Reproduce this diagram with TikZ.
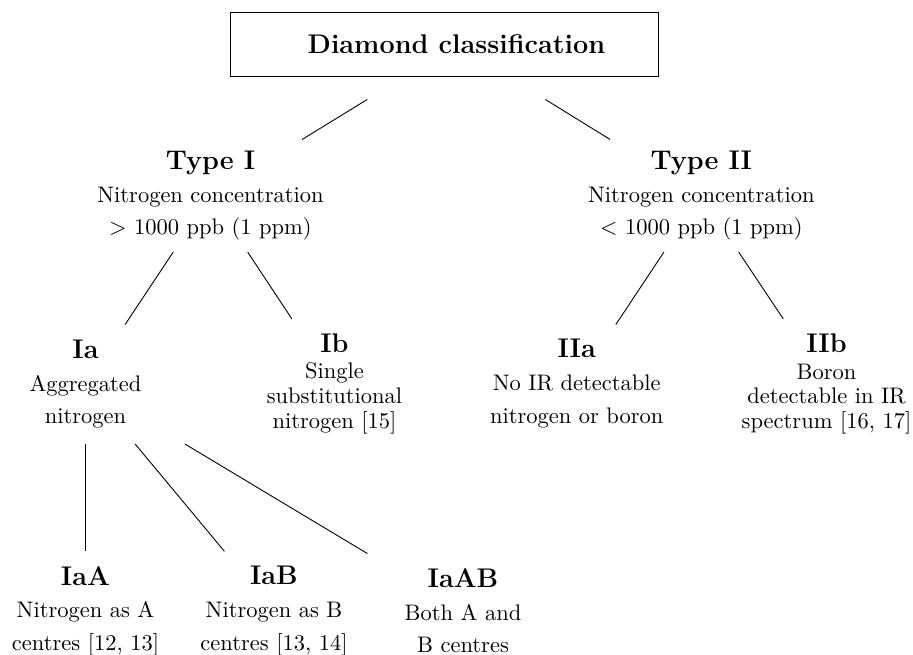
\documentclass[tikz,border=0pt]{standalone}
\begin{document}
\def\pxu{0.44444pt}
\begin{tikzpicture}[x=0.44444pt, y=-0.44444pt,
  frame/.style={draw, line width=0.4pt, inner sep=0pt, minimum width=428*\pxu, minimum height=64*\pxu},
  blk/.style={align=center, inner sep=0pt, minimum width=220*\pxu, font=\fontsize{10}{14.5}\selectfont},
  tight/.style={blk, font=\fontsize{10}{11}\selectfont},
  hd/.style={font=\large\bfseries},
  conn/.style={line width=0.4pt}]
\useasboundingbox (0,0) rectangle (913,655);

\node[frame] (box) at (444,44) {};
\node[blk, minimum height=108.8*\pxu] (root) at (456.5,44.6) {{\large\bfseries Diamond classification}};

\node[blk, minimum height=111.8*\pxu] (t1) at (210.5,195.8)
  {{\large\bfseries Type I}\\Nitrogen concentration\\$>$ 1000 ppb (1 ppm)};
\node[blk, minimum height=111.8*\pxu] (t2) at (701.3,195.8)
  {{\large\bfseries Type II}\\Nitrogen concentration\\$<$ 1000 ppb (1 ppm)};

\node[blk, minimum height=118.5*\pxu] (ia) at (85.5,384.3)
  {{\large\bfseries Ia}\\Aggregated\\nitrogen};
\node[tight, minimum height=128.4*\pxu] (ib) at (334.5,383.5)
  {{\large\bfseries Ib}\\[0.8pt]Single\\substitutional\\nitrogen [15]};
\node[blk, minimum height=117*\pxu] (iia) at (576.7,383.5)
  {{\large\bfseries IIa}\\No IR detectable\\nitrogen or boron};
\node[tight, minimum height=129.4*\pxu] (iib) at (826.5,384)
  {{\large\bfseries IIb}\\[0.8pt]Boron\\detectable in IR\\spectrum [16, 17]};

\node[blk, minimum height=118.6*\pxu] (iaa) at (85.5,611)
  {{\large\bfseries IaA}\\Nitrogen as A\\centres [12, 13]};
\node[blk, minimum height=118.6*\pxu] (iab) at (274,611)
  {{\large\bfseries IaB}\\Nitrogen as B\\centres [13, 14]};
\node[blk, minimum height=114*\pxu] (iaab) at (463,611)
  {{\large\bfseries IaAB}\\Both A and\\B centres};

\draw[conn] (root) -- (t1);
\draw[conn] (root) -- (t2);
\draw[conn] (t1) -- (ia);
\draw[conn] (t1) -- (ib);
\draw[conn] (t2) -- (iia);
\draw[conn] (t2) -- (iib);
\draw[conn] (ia) -- (iaa);
\draw[conn] (ia) -- (iab);
\draw[conn] (ia) -- (iaab);
\end{tikzpicture}
\end{document}
